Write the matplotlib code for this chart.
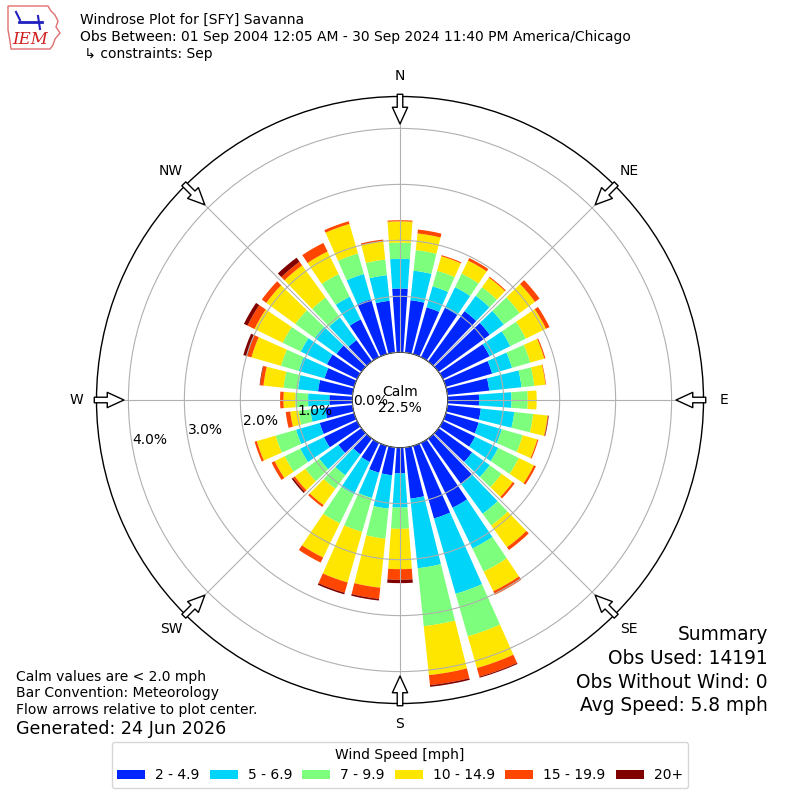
import numpy as np
import matplotlib.pyplot as plt
from matplotlib.patches import Polygon
from matplotlib.lines import Line2D

# wind direction bins (deg, centre of bin) and speed classes
directions = np.arange(0, 360, 10)
speed_bins = ['2 - 4.9', '5 - 6.9', '7 - 9.9', '10 - 14.9', '15 - 19.9', '20+']
bin_colors = ['#0026ff', '#00d4f8', '#7dff7d', '#ffe600', '#ff4600', '#800000']

# percent of observations per direction for each speed class
pct_2_5 = [1.14, 0.94, 0.87, 0.98, 1.11, 1.13, 0.93, 0.86, 0.75, 0.56, 0.60, 0.61,
           0.64, 0.74, 1.00, 1.29, 1.35, 0.92, 0.46, 0.50, 0.50, 0.38, 0.35, 0.51,
           0.66, 0.64, 0.49, 0.41, 0.62, 0.55, 0.60, 0.55, 0.47, 0.75, 1.02, 0.93]
pct_5_7 = [0.53, 0.53, 0.39, 0.41, 0.34, 0.31, 0.41, 0.37, 0.58, 0.58, 0.60, 0.43,
           0.46, 0.39, 0.66, 0.81, 1.40, 1.25, 0.61, 0.60, 0.47, 0.64, 0.46, 0.42,
           0.47, 0.44, 0.27, 0.38, 0.36, 0.48, 0.52, 0.48, 0.50, 0.45, 0.47, 0.46]
pct_7_10 = [0.29, 0.37, 0.29, 0.27, 0.19, 0.35, 0.31, 0.34, 0.23, 0.29, 0.34, 0.39,
            0.41, 0.26, 0.26, 0.46, 0.79, 1.04, 0.38, 0.54, 0.63, 0.58, 0.30, 0.31,
            0.31, 0.38, 0.21, 0.23, 0.26, 0.33, 0.36, 0.43, 0.44, 0.45, 0.38, 0.28]
pct_10_15 = [0.38, 0.30, 0.27, 0.26, 0.21, 0.34, 0.40, 0.26, 0.20, 0.16, 0.26, 0.27,
             0.30, 0.25, 0.48, 0.39, 0.59, 0.88, 0.72, 0.88, 0.94, 0.68, 0.36, 0.23,
             0.20, 0.35, 0.15, 0.21, 0.36, 0.55, 0.56, 0.64, 0.71, 0.45, 0.55, 0.33]
pct_15_20 = [0.02, 0.07, 0.02, 0.05, 0.02, 0.10, 0.07, 0.02, 0.01, 0.00, 0.01, 0.02,
             0.04, 0.04, 0.06, 0.07, 0.16, 0.18, 0.19, 0.20, 0.19, 0.10, 0.04, 0.04,
             0.06, 0.04, 0.08, 0.06, 0.06, 0.09, 0.14, 0.10, 0.08, 0.17, 0.05, 0.03]
pct_20up = [0.00, 0.00, 0.00, 0.00, 0.00, 0.00, 0.00, 0.00, 0.00, 0.00, 0.01, 0.00,
            0.00, 0.00, 0.00, 0.00, 0.02, 0.03, 0.06, 0.03, 0.03, 0.00, 0.00, 0.03,
            0.00, 0.00, 0.00, 0.00, 0.01, 0.06, 0.07, 0.00, 0.09, 0.00, 0.00, 0.00]
speed_data = [pct_2_5, pct_5_7, pct_7_10, pct_10_15, pct_15_20, pct_20up]

calm_pct = 22.5
ring_ticks = [0, 1, 2, 3, 4]
compass = ['N', 'NE', 'E', 'SE', 'S', 'SW', 'W', 'NW']
compass_deg = [0, 45, 90, 135, 180, 225, 270, 315]

summary = ['Summary', 'Obs Used: 14191', 'Obs Without Wind: 0', 'Avg Speed: 5.8 mph']
notes = ['Calm values are < 2.0 mph', 'Bar Convention: Meteorology',
         'Flow arrows relative to plot center.']

fig = plt.figure(figsize=(8, 8), dpi=100)
R = 303.5
ax = fig.add_axes([(400 - R) / 800, (400 - R) / 800, 2 * R / 800, 2 * R / 800],
                  projection='polar')
ax.set_theta_zero_location('N')
ax.set_theta_direction(-1)
ax.set_rorigin(-0.852)
ax.set_ylim(0, 4.57)

theta = np.deg2rad(directions)
base = np.zeros(len(directions))
handles = []
for vals, col in zip(speed_data, bin_colors):
    h = ax.bar(theta, vals, width=np.deg2rad(8), bottom=base, color=col, linewidth=0)
    handles.append(h)
    base = base + np.array(vals)

ax.set_xticks(np.deg2rad(compass_deg))
ax.set_xticklabels(compass, fontsize=10)
ax.tick_params(axis='x', length=0, pad=7.5)
ax.set_yticks(ring_ticks)
ax.set_yticklabels(['%.1f%%' % t for t in ring_ticks], fontsize=10)
ax.set_rlabel_position(260)
ax.tick_params(axis='y', length=0)
ax.set_axisbelow(False)
ax.grid(True, color='#b0b0b0', lw=0.8)
ax.spines['polar'].set_linewidth(1)

# hollow flow arrows on the compass points
for d in compass_deg:
    ax.annotate('', xy=(np.deg2rad(d), 4.08), xytext=(np.deg2rad(d), 4.61),
                arrowprops=dict(arrowstyle='simple,head_length=0.6,head_width=0.55,tail_width=0.2',
                                fc='white', ec='black', lw=1, shrinkA=0, shrinkB=0,
                                mutation_scale=20),
                annotation_clip=False)

ax.text(0.5, 0.5, 'Calm\n%.1f%%' % calm_pct, transform=ax.transAxes,
        ha='center', va='center', fontsize=10)

# header
fig.text(80 / 800, 1 - 20 / 800, 'Windrose Plot for [SFY] Savanna', fontsize=10, va='center')
fig.text(80 / 800, 1 - 37 / 800,
         'Obs Between: 01 Sep 2004 12:05 AM - 30 Sep 2024 11:40 PM America/Chicago',
         fontsize=10, va='center')
fig.text(80 / 800, 1 - 54 / 800, ' \u21b3 constraints: Sep', fontsize=10, va='center')

# rough IEM logo
px = np.array([[8, 6], [48, 6], [51, 11], [55, 15], [58, 21], [56, 27], [60, 33],
               [55, 39], [53, 45], [50, 49], [11, 49], [10, 41], [8, 30]])
fig.patches.append(Polygon(np.c_[px[:, 0] / 800, 1 - px[:, 1] / 800], closed=True,
                           fill=False, ec='#e07070', lw=1, transform=fig.transFigure))
fig.lines.append(Line2D([19 / 800, 42 / 800], [1 - 22 / 800, 1 - 22 / 800], color='#2020c0',
                        lw=2, transform=fig.transFigure))
fig.lines.append(Line2D([16 / 800, 20 / 800], [1 - 12 / 800, 1 - 20 / 800], color='#2020c0',
                        lw=1.5, transform=fig.transFigure))
fig.lines.append(Line2D([38 / 800, 40 / 800], [1 - 16 / 800, 1 - 29 / 800], color='#2020c0',
                        lw=1.5, transform=fig.transFigure))
fig.text(30 / 800, 1 - 39 / 800, 'IEM', fontsize=12, family='DejaVu Serif', style='italic',
         color='#d02020', ha='center', va='center')

# footnotes
for i, line in enumerate(notes):
    fig.text(16 / 800, 1 - (677 + 16.5 * i) / 800, line, fontsize=10, va='center')
fig.text(16 / 800, 1 - 729 / 800, 'Generated: 24 Jun 2026', fontsize=12.6, va='center')

for i, line in enumerate(summary):
    fig.text(768 / 800, 1 - (635 + 23.5 * i) / 800, line, fontsize=13.4,
             ha='right', va='center')

fig.legend(handles=handles, labels=speed_bins, loc='lower center',
           bbox_to_anchor=(0.5, 0.015), borderaxespad=0, ncol=6, fontsize=10,
           title='Wind Speed [mph]', title_fontsize=10, handlelength=2.0,
           columnspacing=0.75, handletextpad=0.72)

fig.savefig('out.png', dpi=100)
